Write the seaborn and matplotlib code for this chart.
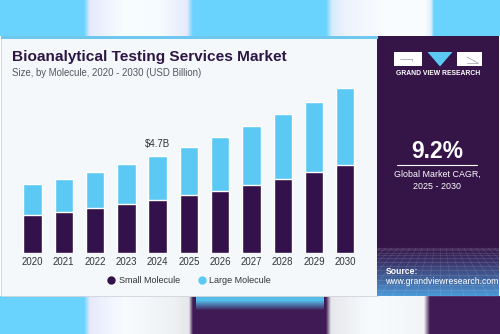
import numpy as np
import pandas as pd
import matplotlib
matplotlib.use("Agg")
import matplotlib.pyplot as plt
import seaborn as sns
from matplotlib.patches import Rectangle, Polygon
from matplotlib.lines import Line2D
from matplotlib.colors import to_rgb

# ---------------- data ----------------
years = ["2020", "2021", "2022", "2023", "2024", "2025", "2026", "2027", "2028", "2029", "2030"]
small_molecule = [1.86, 1.99, 2.18, 2.37, 2.58, 2.81, 3.03, 3.31, 3.60, 3.94, 4.26]
large_molecule = [1.50, 1.62, 1.76, 1.96, 2.12, 2.34, 2.62, 2.87, 3.15, 3.39, 3.76]
series_names = ["Small Molecule", "Large Molecule"]
highlight_year = "2024"
highlight_label = "$4.7B"
title = "Bioanalytical Testing Services Market"
subtitle = "Size, by Molecule, 2020 - 2030 (USD Billion)"
cagr_value = "9.2%"
cagr_text = "Global Market CAGR,\n2025 - 2030"

# ---------------- style ----------------
DARK = "#33114a"
LIGHT = "#5cc9f5"
PANEL = "#351447"
CARD = "#f4f8fb"
SKY = "#69d3fe"

sns.set_theme(style="white")
plt.rcParams["font.family"] = ["Liberation Sans", "DejaVu Sans"]

W, H = 500, 334
fig = plt.figure(figsize=(5, 3.34), dpi=100)

# background axes in pixel coords
bg = fig.add_axes([0, 0, 1, 1], zorder=0)
bg.set_xlim(0, W)
bg.set_ylim(H, 0)
bg.axis("off")


def interp_cols(keys):
    xs = np.arange(W) + 0.5
    kx = [k[0] for k in keys]
    out = np.zeros((W, 3))
    for c in range(3):
        out[:, c] = np.interp(xs, kx, [to_rgb(k[1])[c] for k in keys])
    return out


top_keys = [(0, SKY), (84, SKY), (90, "#e6eafc"), (125, "#f8fdff"), (160, "#f6fbff"),
            (187, "#e6eafc"), (193, SKY), (326, SKY), (332, "#d6ecfd"), (345, "#eef2fc"),
            (380, "#f8fcff"), (425, "#f8fcff"), (431, "#dff0fd"), (434, SKY), (W, SKY)]
top = np.tile(interp_cols(top_keys)[None, :, :], (36, 1, 1))
bg.imshow(top, extent=(0, W, 36, 0), aspect="auto", zorder=0, interpolation="bilinear")

PURP = "#3f1a55"
bot_keys = [(0, SKY), (84, SKY), (90, "#e8eafc"), (125, "#f8fcff"), (175, "#eef0f2"),
            (189, "#e4e6ea"), (193, PURP), (326, PURP), (331, "#e6e8ec"), (370, "#f8fbfd"),
            (424, "#f2f4f6"), (430, PURP), (W, PURP)]
bcols = interp_cols(bot_keys)
nb = 38
bot = np.tile(bcols[None, :, :], (nb, 1, 1))
blue_top = np.array(to_rgb("#55bde9"))
for r in range(nb):
    t = np.clip((r - 4) / 10.0, 0, 1)
    sel = slice(196, 324)
    bot[r, sel] = (1 - t) * blue_top + t * bcols[sel]
bg.imshow(bot, extent=(0, W, H, 296), aspect="auto", zorder=0, interpolation="bilinear")

# card
bg.add_patch(Rectangle((0.5, 36), 377, 260, facecolor=CARD, edgecolor="#d0d4da", lw=0.6, zorder=1))
bg.add_patch(Rectangle((377, 36), 121.5, 260, facecolor=PANEL, edgecolor="none", zorder=1))
bg.add_patch(Rectangle((0.5, 36), 377, 3, facecolor="#6ec8ee", edgecolor="none", zorder=2))

# grid gradient at bottom of panel
gy0, gy1 = 244, 296
rows = gy1 - gy0
grad = np.zeros((rows, 10, 3))
c0 = np.array(to_rgb(PANEL)); c1 = np.array(to_rgb("#4b9ad8"))
for r in range(rows):
    t = (r / (rows - 1)) ** 1.3
    grad[r, :] = (1 - t) * c0 + t * c1
bg.imshow(grad, extent=(377, 498.5, gy1, gy0), aspect="auto", zorder=2, interpolation="bilinear")
# perspective grid lines
for k in range(14):
    yy = gy0 + 4 + (rows - 4) * (k / 13.0) ** 1.6
    bg.plot([377, 498.5], [yy, yy], color="white", alpha=0.18, lw=0.4, zorder=3)
vx, vy = 440, 200
for k in range(-14, 15):
    xb = vx + k * 12
    xs = np.array([vx + (xb - vx) * (gy0 + 4 - vy) / (gy1 - vy), xb])
    line = bg.plot(xs, [gy0 + 4, gy1], color="white", alpha=0.15, lw=0.4, zorder=3)[0]
    line.set_clip_path(Rectangle((377, gy0), 121.5, rows, transform=bg.transData))

# logo
bg.add_patch(Rectangle((394, 52), 28, 14, facecolor="white", edgecolor="none", zorder=4))
bg.plot([400, 412], [58.5, 58.5], color="#9a9aa8", lw=0.5, zorder=5)
bg.plot([412, 412], [58.5, 61], color="#9a9aa8", lw=0.5, zorder=5)
bg.add_patch(Polygon([(427.5, 52), (452.5, 52), (440, 66.5)], closed=True, facecolor=LIGHT,
                     edgecolor="none", zorder=4))
bg.add_patch(Rectangle((456.5, 52), 25.5, 14, facecolor="white", edgecolor="none", zorder=4))
bg.plot([467, 478], [57, 63], color="#9a9aa8", lw=0.5, zorder=5)
bg.plot([467, 478], [63, 63], color="#9a9aa8", lw=0.5, zorder=5)
bg.text(438, 73.5, "GRAND VIEW RESEARCH", color="white", fontsize=4.9, fontweight="bold",
        ha="center", va="center", zorder=5)

# CAGR
bg.text(437, 151.5, cagr_value, color="white", fontsize=16.5, fontweight="bold",
        ha="center", va="center", zorder=5)
bg.plot([397, 477], [165.3, 165.3], color="white", lw=0.8, zorder=5)
bg.text(437, 180, cagr_text, color="white", fontsize=6.4, ha="center", va="center",
        linespacing=1.45, zorder=5)

# source
bg.text(385.5, 271.5, "Source:", color="white", fontsize=6.2, fontweight="bold",
        ha="left", va="center", zorder=5)
bg.text(385.5, 281.7, "www.grandviewresearch.com", color="white", fontsize=6.2,
        ha="left", va="center", zorder=5)

# titles
bg.text(12.5, 57.5, title, color="#2d1645", fontsize=11.1, fontweight="bold",
        ha="left", va="center", zorder=5)
bg.text(12.5, 72.7, subtitle, color="#555560", fontsize=6.9, ha="left", va="center", zorder=5)

# ---------------- chart ----------------
df = pd.DataFrame({"year": years, "small": small_molecule, "large": large_molecule})
df["total"] = df["small"] + df["large"]

ax = fig.add_axes([16.9 / W, 1 - 253.3 / H, 344 / W, 173.3 / H], zorder=3)
ax.patch.set_alpha(0)
sns.barplot(data=df, x="year", y="total", color=LIGHT, width=0.585, saturation=1, ax=ax)
sns.barplot(data=df, x="year", y="small", color=DARK, width=0.585, saturation=1, ax=ax)
ax.set_xlim(-0.5, len(years) - 0.5)
ax.set_ylim(0, 8.40)
ax.set_yticks([])
ax.set_xlabel("")
ax.set_ylabel("")
ax.tick_params(axis="x", length=0, pad=2.5, labelsize=6.9, labelcolor="#333333")
sns.despine(ax=ax, left=True, bottom=True)

hi = years.index(highlight_year)
ax.text(hi, df["total"][hi] + 0.58, highlight_label, ha="center", va="center",
        fontsize=7, color="#333333")

handles = [Line2D([], [], marker="o", ls="", color=DARK, markersize=5),
           Line2D([], [], marker="o", ls="", color=LIGHT, markersize=5)]
fig.legend(handles, series_names, loc="center", bbox_to_anchor=(189 / W, 1 - 280.7 / H),
           ncol=2, frameon=False, fontsize=6.5, handletextpad=0.3, columnspacing=2.0,
           labelcolor="#333333", handlelength=1.0)

fig.savefig("out.png", dpi=100)
